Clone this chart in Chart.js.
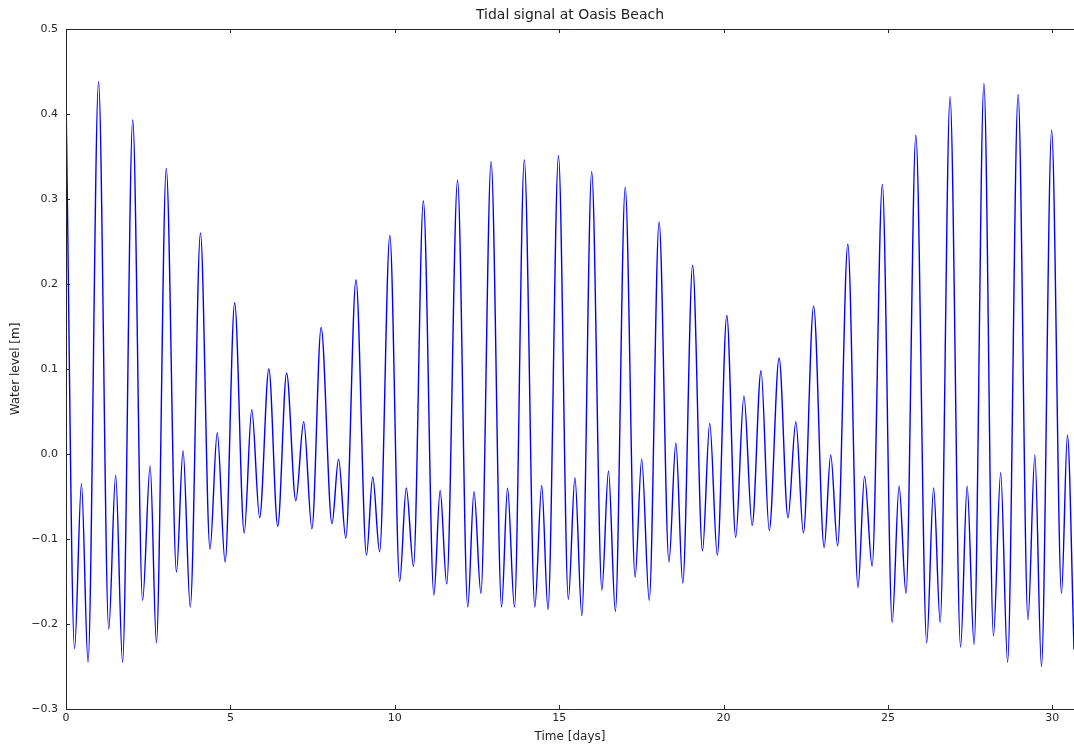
<!DOCTYPE html>
<html>
<head>
<meta charset="utf-8">
<script src="https://cdn.jsdelivr.net/npm/chart.js@4.4.1/dist/chart.umd.min.js"></script>
<style>
  html, body { margin: 0; padding: 0; background: #fff; overflow: hidden; }
  canvas { display: block; }
</style>
</head>
<body>
<canvas id="tideChart" width="1074" height="745"></canvas>
<script>
// turning points of the water level curve
const days = [
    0.00, 0.26, 0.47, 0.67, 0.99, 1.30, 1.51, 1.72, 2.03, 2.33, 2.56, 2.75,
    3.05, 3.36, 3.56, 3.78, 4.09, 4.38, 4.60, 4.84, 5.13, 5.42, 5.65, 5.89,
    6.17, 6.44, 6.71, 6.99, 7.23, 7.48, 7.76, 8.09, 8.29, 8.51, 8.82, 9.14,
    9.33, 9.54, 9.85, 10.15, 10.35, 10.57, 10.87, 11.19, 11.38, 11.58, 11.91, 12.22,
    12.41, 12.62, 12.93, 13.25, 13.43, 13.64, 13.94, 14.26, 14.47, 14.66, 14.98, 15.28,
    15.48, 15.69, 15.99, 16.30, 16.50, 16.71, 17.01, 17.31, 17.51, 17.74, 18.04, 18.34,
    18.55, 18.76, 19.06, 19.36, 19.58, 19.81, 20.10, 20.37, 20.62, 20.87, 21.14, 21.39,
    21.69, 21.96, 22.20, 22.43, 22.74, 23.06, 23.26, 23.47, 23.78, 24.09, 24.29, 24.52,
    24.83, 25.13, 25.34, 25.55, 25.85, 26.18, 26.39, 26.59, 26.89, 27.21, 27.41, 27.62,
    27.92, 28.21, 28.43, 28.64, 28.96, 29.26, 29.47, 29.67, 29.98, 30.28, 30.46, 30.66
];
const waterLevel = [
    0.420, -0.229, -0.035, -0.245, 0.438, -0.206, -0.025, -0.245, 0.393, -0.172, -0.014, -0.222,
    0.336, -0.139, 0.004, -0.180, 0.260, -0.112, 0.025, -0.127, 0.178, -0.093, 0.052, -0.075,
    0.100, -0.085, 0.095, -0.055, 0.038, -0.088, 0.149, -0.082, -0.006, -0.099, 0.205, -0.119,
    -0.027, -0.115, 0.257, -0.150, -0.040, -0.132, 0.298, -0.166, -0.043, -0.153, 0.322, -0.180,
    -0.044, -0.164, 0.344, -0.180, -0.040, -0.180, 0.346, -0.180, -0.037, -0.183, 0.351, -0.171,
    -0.028, -0.190, 0.332, -0.160, -0.020, -0.185, 0.314, -0.145, -0.006, -0.172, 0.273, -0.127,
    0.013, -0.152, 0.222, -0.114, 0.036, -0.119, 0.163, -0.098, 0.068, -0.084, 0.098, -0.090,
    0.113, -0.075, 0.038, -0.093, 0.174, -0.110, -0.001, -0.108, 0.247, -0.157, -0.026, -0.132,
    0.317, -0.198, -0.038, -0.164, 0.375, -0.222, -0.040, -0.198, 0.420, -0.227, -0.038, -0.224,
    0.436, -0.214, -0.022, -0.245, 0.423, -0.195, -0.001, -0.250, 0.381, -0.164, 0.022, -0.230
];

const xTicks = [0, 5, 10, 15, 20, 25, 30];
const yTicks = [-0.3, -0.2, -0.1, 0.0, 0.1, 0.2, 0.3, 0.4, 0.5];
const yTickLabels = ['\u22120.3', '\u22120.2', '\u22120.1', '0.0', '0.1', '0.2', '0.3', '0.4', '0.5'];
const chartTitle = 'Tidal signal at Oasis Beach';

Chart.defaults.font.family = 'DejaVu Sans';
Chart.defaults.font.size = 11;
Chart.defaults.color = '#262626';

// matplotlib style frame: spines, inward tick marks, title over the axes
const framePlugin = {
    id: 'frame',
    afterDraw(chart) {
        const { ctx, chartArea: a, scales: { x, y } } = chart;
        ctx.save();
        ctx.strokeStyle = '#262626';
        ctx.lineWidth = 1;
        ctx.beginPath();
        ctx.moveTo(a.right + 1, a.top + 0.5);
        ctx.lineTo(a.left + 0.5, a.top + 0.5);
        ctx.lineTo(a.left + 0.5, a.bottom + 0.5);
        ctx.lineTo(a.right + 1, a.bottom + 0.5);
        x.ticks.forEach((t) => {
            const px = Math.round(x.getPixelForValue(t.value)) + 0.5;
            ctx.moveTo(px, a.bottom);
            ctx.lineTo(px, a.bottom - 4);
            ctx.moveTo(px, a.top);
            ctx.lineTo(px, a.top + 4);
        });
        y.ticks.forEach((t) => {
            const py = Math.round(y.getPixelForValue(t.value)) + 0.5;
            ctx.moveTo(a.left, py);
            ctx.lineTo(a.left + 4, py);
        });
        ctx.stroke();

        ctx.fillStyle = '#222';
        ctx.font = '14px "DejaVu Sans"';
        ctx.textAlign = 'center';
        ctx.textBaseline = 'middle';
        ctx.fillText(chartTitle, (a.left + a.right) / 2, 15);
        ctx.restore();
    }
};

const ctx = document.getElementById('tideChart').getContext('2d');
const tideChart = new Chart(ctx, {
    type: 'line',
    data: {
        datasets: [{
            label: 'Water level',
            data: days.map((d, i) => ({ x: d, y: waterLevel[i] })),
            borderColor: '#0000ff',
            borderWidth: 1.4,
            pointRadius: 0,
            fill: false,
            cubicInterpolationMode: 'monotone'
        }]
    },
    options: {
        responsive: false,
        animation: false,
        devicePixelRatio: 1,
        layout: { padding: { top: 29, right: 0, bottom: 0, left: 0 } },
        plugins: {
            legend: { display: false },
            tooltip: { enabled: false },
            title: { display: false }
        },
        scales: {
            x: {
                type: 'linear',
                min: 0,
                max: 30.66,
                afterBuildTicks: (scale) => { scale.ticks = xTicks.map((v) => ({ value: v })); },
                afterFit: (scale) => { scale.height = 36; },
                grid: { display: false, drawTicks: false },
                border: { display: false },
                ticks: { padding: 3, maxRotation: 0, autoSkip: false },
                title: { display: true, text: 'Time [days]', font: { size: 12 }, padding: { top: 0, bottom: 1 } }
            },
            y: {
                type: 'linear',
                min: -0.3,
                max: 0.5,
                afterBuildTicks: (scale) => { scale.ticks = yTicks.map((v) => ({ value: v })); },
                afterFit: (scale) => { scale.width = 66; },
                grid: { display: false, drawTicks: false },
                border: { display: false },
                ticks: { padding: 8, autoSkip: false, callback: (v, i) => yTickLabels[i] },
                title: { display: true, text: 'Water level [m]', font: { size: 12 }, padding: { top: 9, bottom: 0 } }
            }
        }
    },
    plugins: [framePlugin]
});
</script>
</body>
</html>
